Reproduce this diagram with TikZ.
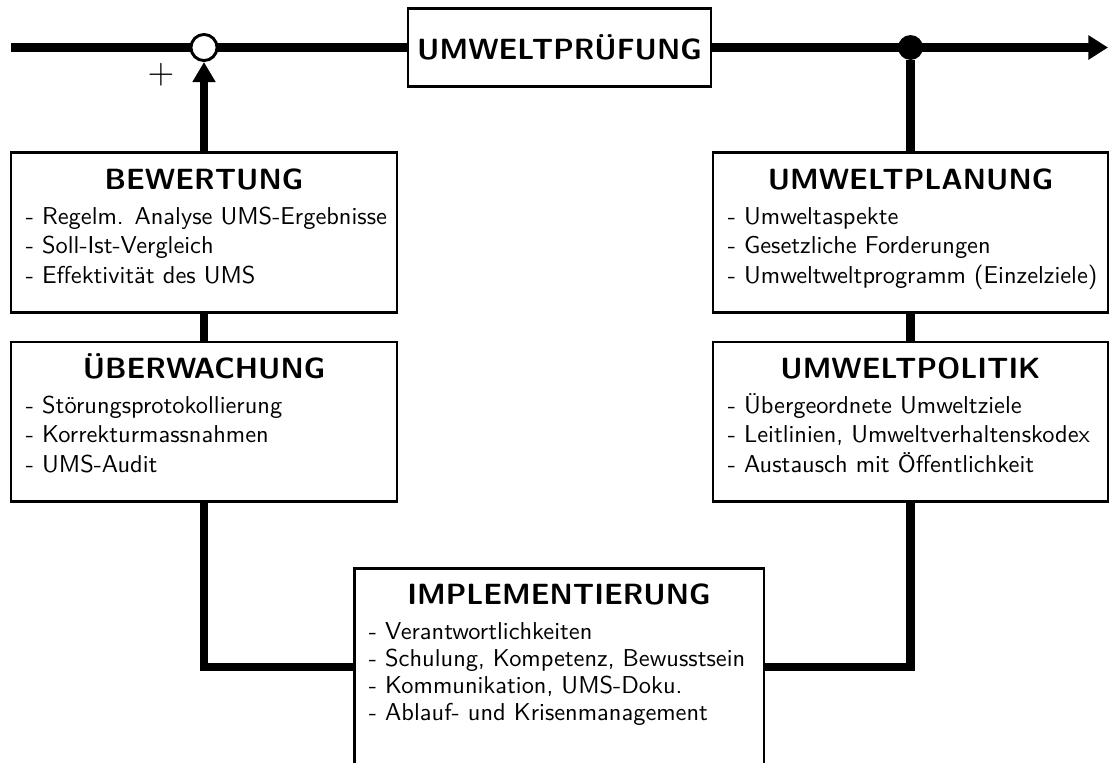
\documentclass[tikz,border=0pt]{standalone}
\usepackage{fontspec}
\usepackage{tikz}
\usetikzlibrary{
  arrows.meta,%
  calc,%
  positioning
}
\tikzset{>=latex}
\tikzset{font=\sffamily\normalsize}
\tikzset{box/.style={draw, line width=1.2pt, inner sep=0pt, fill=white},
  flow/.style={line width=3.6pt},
  head/.style={font=\sffamily\bfseries\large, anchor=base, inner sep=0pt},
  item/.style={font=\sffamily\normalsize, anchor=base west, inner sep=0pt}}
\newcommand{\boxtitle}[2]{\node[head] (#1-t) at ([yshift=-15.6pt]#1.north) {#2};}
\newcommand{\boxitems}[3][12pt]{%
  \foreach \txt [count=\i] in {#3}
    \node[item] (#2-\i) at ([xshift=6.5pt, yshift={-30pt-(\i-1)*#1}]#2.north west) {- \txt};}

\begin{document}
\begin{tikzpicture}[x=0.014405cm, y=-0.014405cm]
  \useasboundingbox (0,0) rectangle (1109,762);
  % blocks
  \node[box, minimum width=124.2pt, minimum height=31.6pt, font=\sffamily\bfseries\large] (pruef) at (559.5,47.5) {UMWELTPRÜFUNG};
  \node[box, minimum width=158.2pt, minimum height=65.2pt] (bew) at (204,232.5) {};
  \node[box, minimum width=158.2pt, minimum height=65.2pt] (ueber) at (204,421.5) {};
  \node[box, minimum width=161.9pt, minimum height=65.2pt] (plan) at (910.5,232.5) {};
  \node[box, minimum width=161.9pt, minimum height=65.2pt] (polit) at (910.5,421.5) {};
  \node[box, minimum width=168pt, minimum height=106.5pt] (impl) at (559,698) {};
  % texts
  \boxtitle{bew}{BEWERTUNG}
  \boxitems{bew}{Regelm. Analyse UMS-Ergebnisse, Soll-Ist-Vergleich, Effektivität des UMS}
  \boxtitle{ueber}{ÜBERWACHUNG}
  \boxitems{ueber}{Störungsprotokollierung, Korrekturmassnahmen, UMS-Audit}
  \boxtitle{plan}{UMWELTPLANUNG}
  \boxitems{plan}{Umweltaspekte, Gesetzliche Forderungen, Umweltweltprogramm (Einzelziele)}
  \boxtitle{polit}{UMWELTPOLITIK}
  \boxitems{polit}{Übergeordnete Umweltziele, {Leitlinien, Umweltverhaltenskodex}, Austausch mit Öffentlichkeit}
  \boxtitle{impl}{IMPLEMENTIERUNG}
  \boxitems[11pt]{impl}{Verantwortlichkeiten, {Schulung, Kompetenz, Bewusstsein}, {Kommunikation, UMS-Doku.}, Ablauf- und Krisenmanagement}
  % main line
  \coordinate (start) at (11,47.5);
  \coordinate (end) at (1108,47.5);
  \coordinate (link) at (0,667);
  \draw[flow] (start) -- (pruef);
  \draw[flow, -{Triangle[length=8pt, width=9.5pt]}] (pruef) -- (end);
  \node[circle, draw, line width=1.2pt, fill=white, minimum size=10.7pt, inner sep=0pt] (sum) at (204,47.5) {};
  \node[circle, fill=black, minimum size=10.2pt, inner sep=0pt] (split) at (910.5,47.5) {};
  \node (plus) at (161,75) {\Large$+$};
  % loop
  \draw[flow, -{Triangle[length=8.2pt, width=9pt]}] (bew) -- (sum);
  \draw[flow] (ueber) -- (bew);
  \draw[flow] (ueber) |- (impl.west |- link);
  \draw[flow] (split) -- (plan);
  \draw[flow] (plan) -- (polit);
  \draw[flow] (polit) |- (impl.east |- link);
\end{tikzpicture}
\end{document}
